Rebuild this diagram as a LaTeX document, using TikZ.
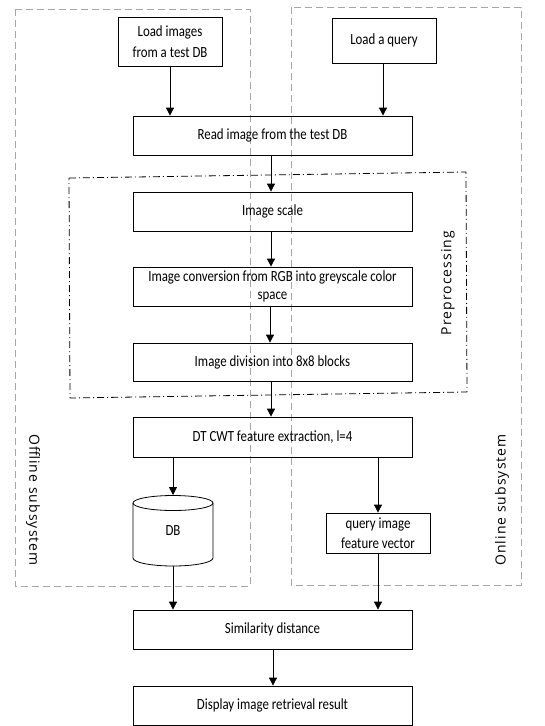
\documentclass[tikz,border=0pt]{standalone}
\usepackage{fontspec}
\setmainfont{Carlito}[FakeStretch=0.83]
\newfontfamily\sidefont{Open Sans}[LetterSpace=7.5]
\usetikzlibrary{arrows.meta}
\begin{document}
\begin{tikzpicture}[x=1pt,y=-1pt,
  box/.style={draw,line width=0.8pt,inner sep=0pt,align=center,font=\fontsize{15.5}{18}\selectfont},
  widebox/.style={box,font=\fontsize{15.5}{20.5}\selectfont},
  arr/.style={draw,line width=0.8pt,-{Triangle[length=8pt,width=8pt]}},
  sub/.style={draw=gray!70,dashed,dash pattern=on 7pt off 4pt,line width=0.7pt},
  side/.style={font=\sidefont\fontsize{14}{16}\selectfont}]
\useasboundingbox (0,0) rectangle (545,726);
% subsystem containers
\draw[sub] (15,9) rectangle (250,586);
\draw[sub] (291,7) rectangle (521,585);
% preprocessing container
\draw[line width=0.8pt,dash pattern=on 7pt off 3pt on 1pt off 3pt] (69,178) -- (466,172) -- (467,392) -- (70,398) -- cycle;
% nodes
\node[widebox,minimum width=104pt,minimum height=49pt] (load1) at (170,41.5) {Load images\\from a test DB};
\node[box,minimum width=104pt,minimum height=45pt] (load2) at (384,40.5) {Load a query};
\node[box,minimum width=279pt,minimum height=39pt] (read) at (272.5,135.5) {Read image from the test DB};
\node[box,minimum width=279pt,minimum height=39pt] (scale) at (272.5,211.5) {Image scale};
\node[box,minimum width=279pt,minimum height=39pt] (conv) at (272.5,286.5) {Image conversion from RGB into greyscale color\\space};
\node[box,minimum width=279pt,minimum height=38pt] (div) at (272.5,362) {Image division into 8x8 blocks};
\node[box,minimum width=279pt,minimum height=40pt] (dt) at (272.5,437) {DT CWT feature extraction, l=4};
\node[box,draw=none,minimum width=80pt,minimum height=71pt] (db) at (173,530.5) {DB};
\draw[line width=0.8pt] (173,503) ellipse [x radius=40, y radius=7.5];
\draw[line width=0.8pt] (133,503) -- (133,558) arc (180:0:40 and 8) -- (213,503);
\node[widebox,minimum width=104pt,minimum height=40pt] (qv) at (378,533) {query image\\feature vector};
\node[box,minimum width=279pt,minimum height=39pt] (sim) at (272.5,629.5) {Similarity distance};
\node[box,minimum width=279pt,minimum height=39pt] (disp) at (272.5,705.5) {Display image retrieval result};
% labels
\node[side,rotate=-90] (off) at (33,500) {Offline\ subsystem};
\node[side,rotate=90] (on) at (502,500) {Online subsystem};
\node[side,rotate=90] (pre) at (448,283) {Preprocessing};
% connectors
\draw[arr] (load1) -- (load1 |- read.north);
\draw[arr] (load2.south -| 383,0) -- (read.north -| 383,0);
\draw[arr] (read.south -| 271,0) -- (scale.north -| 271,0);
\draw[arr] (scale.south -| 271,0) -- (conv.north -| 271,0);
\draw[arr] (conv.south -| 270,0) -- (div.north -| 270,0);
\draw[arr] (div.south -| 271,0) -- (dt.north -| 271,0);
\draw[arr] (dt.south -| db) -- (173,495);
\draw[arr] (dt.south -| qv) -- (qv.north);
\draw[arr] (173,566) -- (sim.north -| db);
\draw[arr] (qv.south) -- (sim.north -| qv);
\draw[arr] (sim.south -| 273,0) -- (disp.north -| 273,0);
\end{tikzpicture}
\end{document}
